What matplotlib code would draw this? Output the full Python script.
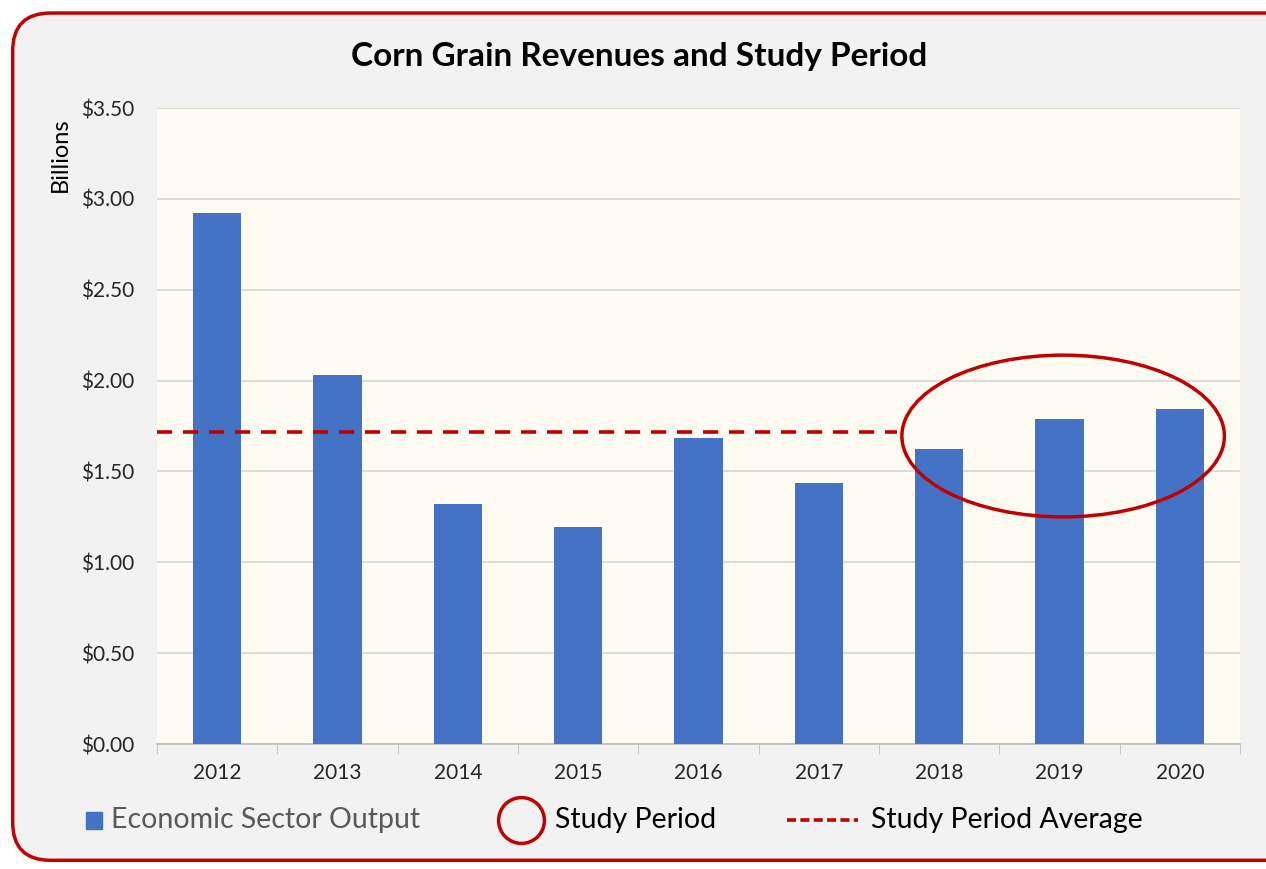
import matplotlib.pyplot as plt
import numpy as np
from matplotlib.patches import Ellipse, FancyBboxPatch
from matplotlib.lines import Line2D

years = ['2012', '2013', '2014', '2015', '2016', '2017', '2018', '2019', '2020']
output = [2.92, 2.03, 1.32, 1.195, 1.685, 1.435, 1.625, 1.79, 1.845]
avg_value = 1.715
avg_span = (-0.5, 5.65)
yticks = [0, 0.5, 1.0, 1.5, 2.0, 2.5, 3.0, 3.5]

blue = '#4472C4'
red = '#C00000'
plt.rcParams['font.family'] = ['Lato', 'DejaVu Sans']

fig = plt.figure(figsize=(12.66, 8.69), dpi=100)
fig.patch.set_facecolor('white')

# rounded red frame with grey fill
frame = FancyBboxPatch((0.010, 0.010), 1.02, 0.975,
                       boxstyle='round,pad=0,rounding_size=0.03',
                       transform=fig.transFigure, facecolor='#F2F2F2',
                       edgecolor=red, linewidth=2.5, mutation_aspect=1266/869,
                       zorder=-10)
fig.patches.append(frame)

ax = fig.add_axes([0.124, 0.1438, 0.8555, 0.7319])
ax.set_facecolor('#FEFBF3')
x = np.arange(len(years))
ax.bar(x, output, width=0.4, color=blue, zorder=3)
ax.plot(avg_span, [avg_value, avg_value], color=red, linestyle=(0, (4.2, 3)),
        linewidth=2.6, zorder=4)
ell = Ellipse((7.03, 1.695), 2.68, 0.89, fill=False, edgecolor=red,
              linewidth=2.5, zorder=5)
ax.add_patch(ell)

ax.set_xlim(-0.5, len(years) - 0.5)
ax.set_ylim(0, 3.5)
ax.set_yticks(yticks)
ax.set_yticklabels(['$%.2f' % v for v in yticks], fontsize=15, color='#262626')
ax.set_xticks(x)
ax.set_xticklabels(years, fontsize=15, color='#262626')
ax.set_xticks(np.arange(-0.5, len(years), 1), minor=True)
ax.tick_params(axis='x', which='major', length=0, pad=14)
ax.tick_params(axis='x', which='minor', length=7, color='#BFBFBF')
ax.tick_params(axis='y', length=0, pad=16)
ax.grid(axis='y', color='#D9D9D9', linewidth=1.3, zorder=0)
for s in ['top', 'right', 'left']:
    ax.spines[s].set_visible(False)
ax.spines['bottom'].set_color('#BFBFBF')
ax.spines['bottom'].set_linewidth(1.3)

fig.text(0.505, 0.935, 'Corn Grain Revenues and Study Period', ha='center',
         va='center', fontsize=24, fontweight='bold')
fig.text(0.048, 0.822, 'Billions', rotation=90, ha='center', va='center',
         fontsize=17)

# legend row
ly = 0.056
fig.patches.append(plt.Rectangle((0.068, ly - 0.0095), 0.0125, 0.019,
                                 transform=fig.transFigure, color=blue))
fig.text(0.088, ly, 'Economic Sector Output', fontsize=20.5, color='#595959',
         va='center')
fig.lines.append(Line2D([0.4115], [ly], marker='o', markersize=33,
                        markerfacecolor='none', markeredgecolor=red,
                        markeredgewidth=2.5, transform=fig.transFigure))
fig.text(0.438, ly, 'Study Period', fontsize=20.5, va='center')
fig.lines.append(Line2D([0.622, 0.678], [ly, ly], color=red,
                        linestyle=(0, (2.5, 1.2)), linewidth=2.6,
                        transform=fig.transFigure))
fig.text(0.688, ly, 'Study Period Average', fontsize=20.5, va='center')

fig.savefig('out.png', dpi=100)
